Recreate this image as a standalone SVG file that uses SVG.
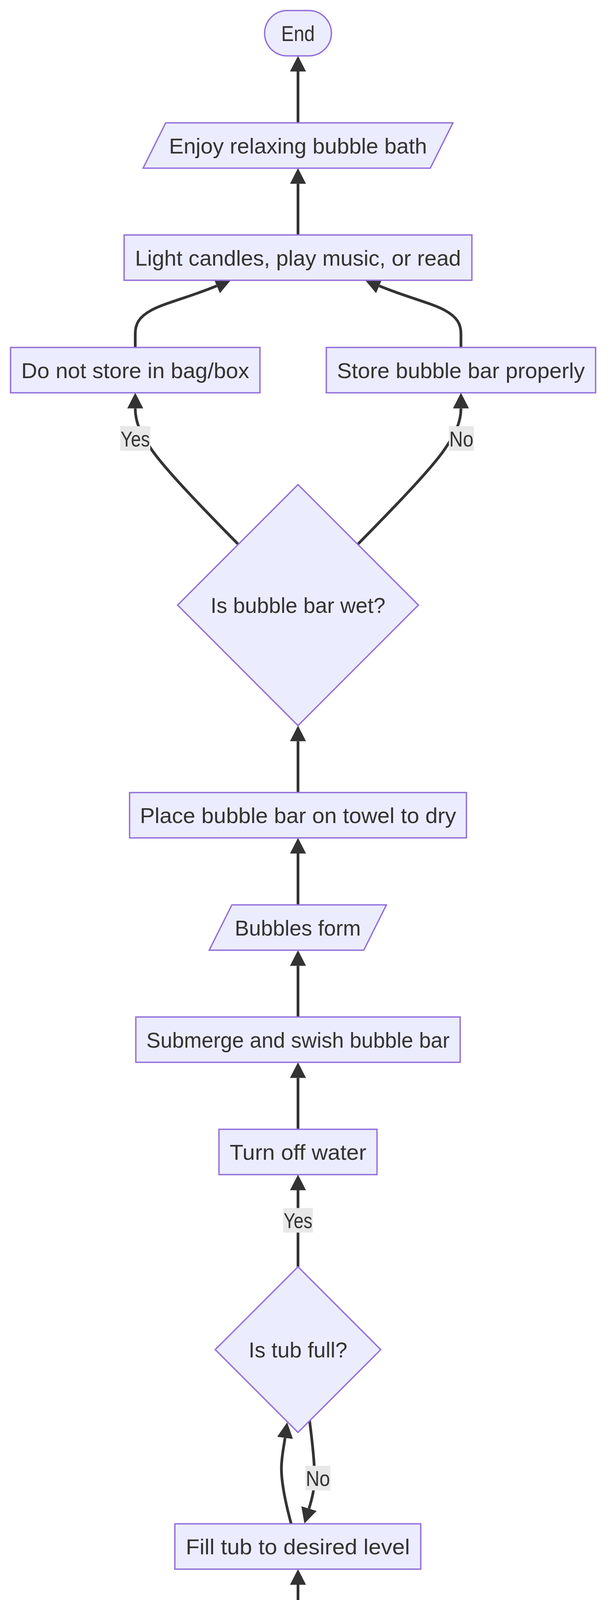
<svg xmlns="http://www.w3.org/2000/svg" width="1568" height="5830" viewBox="0 0 1568 5830">
<style>
.edge{fill:none;stroke:#333333;stroke-width:7;marker-end:url(#arrow)}
.node{fill:#ECECFF;stroke:#9370DB;stroke-width:3.5}
.lbl{fill:#e8e8e8}
text{font-family:"Liberation Sans",Arial,sans-serif;font-size:56px;fill:#333333;text-anchor:middle}
</style>
<defs>
<marker id="arrow" viewBox="0 0 40 41" refX="0" refY="20.5" markerUnits="userSpaceOnUse" markerWidth="40" markerHeight="41" orient="auto" preserveAspectRatio="none">
<path d="M0,0 L40,20.5 L0,41 z" fill="#333333"/>
</marker>
</defs>
<rect width="1568" height="5830" fill="#ffffff"/>
<g id="connectors">
<path class="edge" d="M763.5,5626 V5494.5"/>
<path class="edge" d="M763.5,5338.5 V5207"/>
<path class="edge" d="M763.5,5051 V4919.5"/>
<path class="edge" d="M763.5,4763.5 V4632"/>
<path class="edge" d="M763.5,4476 V4344.5"/>
<path class="edge" d="M763.5,4188.5 V4057"/>
<path class="edge" d="M746,3901 C735,3860 721,3800 721,3760 C721,3730 727,3705 730.3,3681"/>
<path class="edge" d="M793,3636 C800,3690 806,3740 806,3780 C806,3810 800,3835 791.7,3862"/>
<path class="edge" d="M763.5,3243 V3047"/>
<path class="edge" d="M763.5,2891 V2759.5"/>
<path class="edge" d="M763.5,2603.5 V2472.5"/>
<path class="edge" d="M763.5,2316.5 V2185"/>
<path class="edge" d="M763.5,2029 V1897.5"/>
<path class="edge" d="M610,1393 C540,1322 420,1200 385,1146 C360,1110 346.5,1080 346.5,1045.5"/>
<path class="edge" d="M917,1393 C987,1322 1107,1200 1142,1146 C1167,1110 1181,1080 1181,1045.5"/>
<path class="edge" d="M346.5,889.5 L346.5,855 C346.5,830 355,812 388,794 C420,776 491,759 555.3,731.8"/>
<path class="edge" d="M1181,889.5 L1181,855 C1181,830 1172,812 1139,794 C1107,776 1036,759 971.7,731.8"/>
<path class="edge" d="M763.5,601.5 V470.5"/>
<path class="edge" d="M763.5,314.5 V183"/>
</g>
<g id="edge-labels">
<g id="label-wet-yes"><rect class="lbl" x="308" y="1091" width="77" height="63"/><text x="346.5" y="1142.5" textLength="75" lengthAdjust="spacingAndGlyphs">Yes</text></g>
<g id="label-wet-no"><rect class="lbl" x="1150" y="1091" width="64" height="63"/><text x="1182" y="1142.5" textLength="62" lengthAdjust="spacingAndGlyphs">No</text></g>
<g id="label-tub-yes"><rect class="lbl" x="725.5" y="3092.5" width="76" height="63"/><text x="763.5" y="3144" textLength="74" lengthAdjust="spacingAndGlyphs">Yes</text></g>
<g id="label-tub-no"><rect class="lbl" x="782.5" y="3752.5" width="64" height="63"/><text x="814.5" y="3804" textLength="62" lengthAdjust="spacingAndGlyphs">No</text></g>
</g>
<g id="nodes">
<g id="end"><rect class="node" x="678" y="27" width="171" height="116" rx="58" ry="58"/><text x="763.5" y="105" textLength="86" lengthAdjust="spacingAndGlyphs">End</text></g>
<g id="enjoy"><polygon class="node" points="366.6,430.5 1102.4,430.5 1160.4,314.5 424.6,314.5"/><text x="763.5" y="392.5" textLength="661" lengthAdjust="spacingAndGlyphs">Enjoy relaxing bubble bath</text></g>
<g id="light"><rect class="node" x="318" y="601.5" width="891" height="116"/><text x="763.5" y="679.5" textLength="835" lengthAdjust="spacingAndGlyphs">Light candles, play music, or read</text></g>
<g id="donotstore"><rect class="node" x="27" y="889.5" width="639" height="116"/><text x="346.5" y="967.5" textLength="584" lengthAdjust="spacingAndGlyphs">Do not store in bag/box</text></g>
<g id="store"><rect class="node" x="836" y="889.5" width="690" height="116"/><text x="1181" y="967.5" textLength="635" lengthAdjust="spacingAndGlyphs">Store bubble bar properly</text></g>
<g id="wet"><polygon class="node" points="763.5,1240.5 1072,1549 763.5,1857.5 455,1549"/><text x="763.5" y="1569" textLength="448" lengthAdjust="spacingAndGlyphs">Is bubble bar wet?</text></g>
<g id="place"><rect class="node" x="332" y="2029" width="863" height="116"/><text x="763.5" y="2107" textLength="810" lengthAdjust="spacingAndGlyphs">Place bubble bar on towel to dry</text></g>
<g id="bubbles"><polygon class="node" points="536,2432.5 932,2432.5 990,2316.5 594,2316.5"/><text x="763" y="2394.5" textLength="323" lengthAdjust="spacingAndGlyphs">Bubbles form</text></g>
<g id="submerge"><rect class="node" x="348" y="2603.5" width="831" height="116"/><text x="763.5" y="2681.5" textLength="777" lengthAdjust="spacingAndGlyphs">Submerge and swish bubble bar</text></g>
<g id="turnoff"><rect class="node" x="561" y="2891" width="405" height="116"/><text x="763.5" y="2969" textLength="350" lengthAdjust="spacingAndGlyphs">Turn off water</text></g>
<g id="tubfull"><polygon class="node" points="763.5,3243 975.5,3455 763.5,3667 551.5,3455"/><text x="763.5" y="3475" textLength="253" lengthAdjust="spacingAndGlyphs">Is tub full?</text></g>
<g id="fill"><rect class="node" x="448" y="3901" width="630" height="116"/><text x="763" y="3979" textLength="574" lengthAdjust="spacingAndGlyphs">Fill tub to desired level</text></g>
<g id="towel"><rect class="node" x="336" y="4188.5" width="855" height="116"/><text x="763.5" y="4266.5" textLength="800" lengthAdjust="spacingAndGlyphs">Have towel ready for bubble bar</text></g>
<g id="prepare"><rect class="node" x="255" y="4476" width="1017" height="116"/><text x="763.5" y="4554" textLength="963" lengthAdjust="spacingAndGlyphs">Prepare comfortable bath temperature</text></g>
<g id="verify"><rect class="node" x="461" y="4763.5" width="604" height="116"/><text x="763" y="4841.5" textLength="550" lengthAdjust="spacingAndGlyphs">Verify bubble bar type</text></g>
<g id="acquire"><rect class="node" x="503" y="5051" width="521" height="116"/><text x="763.5" y="5129" textLength="468" lengthAdjust="spacingAndGlyphs">Acquire bubble bar</text></g>
<g id="ensure"><rect class="node" x="368" y="5338.5" width="791" height="116"/><text x="763.5" y="5416.5" textLength="738" lengthAdjust="spacingAndGlyphs">Ensure 20 minutes availability</text></g>
<g id="start"><rect class="node" x="663" y="5626" width="200" height="116" rx="58" ry="58"/><text x="763" y="5704" textLength="118" lengthAdjust="spacingAndGlyphs">Start</text></g>
</g>
</svg>
